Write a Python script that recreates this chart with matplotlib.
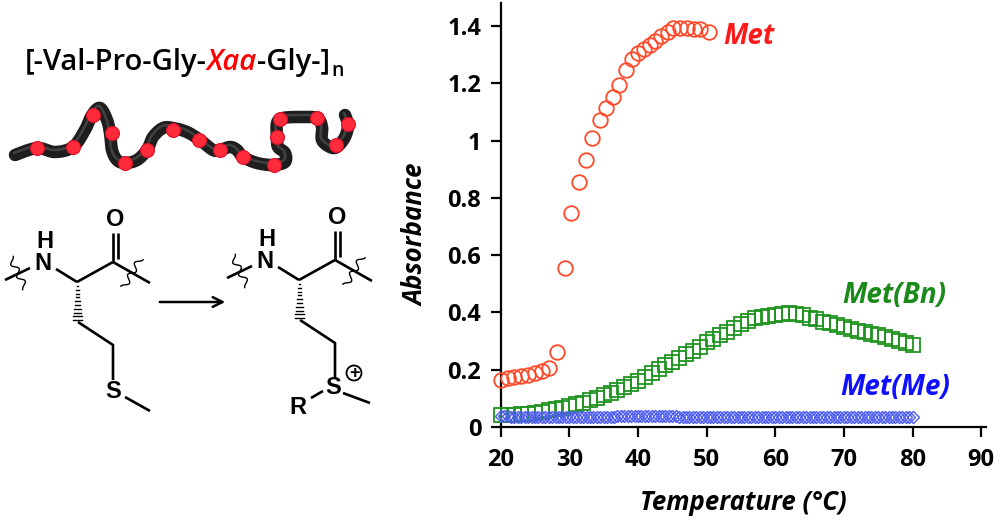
import numpy as np
import matplotlib
matplotlib.use("Agg")
import matplotlib.pyplot as plt

# --- data ---
x_met = [20, 21, 22, 23, 24, 25, 26, 27, 28.2, 29.3, 30.3, 31.4, 32.4, 33.3, 34.4, 35.3,
         36.3, 37.3, 38.3, 39.2, 40.0, 40.9, 41.7, 42.5, 43.4, 44.3, 45.1, 46.1, 47.1,
         48.1, 49.0, 50.3]
y_met = [0.164, 0.170, 0.176, 0.179, 0.181, 0.187, 0.197, 0.205, 0.263, 0.555, 0.748,
         0.855, 0.931, 1.008, 1.071, 1.113, 1.154, 1.195, 1.247, 1.284, 1.305, 1.319,
         1.334, 1.349, 1.365, 1.380, 1.392, 1.395, 1.393, 1.391, 1.391, 1.380]

x_bn = np.arange(20, 81, 1)
y_bn = [0.042, 0.042, 0.043, 0.044, 0.046, 0.048, 0.052, 0.058, 0.062, 0.067,
        0.073, 0.079, 0.085, 0.093, 0.101, 0.110, 0.119, 0.129, 0.139, 0.150,
        0.161, 0.175, 0.189, 0.203, 0.215, 0.227, 0.240, 0.254, 0.266, 0.281,
        0.296, 0.308, 0.320, 0.331, 0.346, 0.360, 0.371, 0.379, 0.385, 0.389,
        0.392, 0.396, 0.397, 0.394, 0.390, 0.382, 0.376, 0.368, 0.362, 0.356,
        0.350, 0.343, 0.337, 0.331, 0.326, 0.321, 0.315, 0.308, 0.301, 0.294,
        0.286]

x_me = np.arange(20, 80.01, 0.5)
y_me = [0.038, 0.037, 0.037, 0.036, 0.036, 0.036, 0.035, 0.035, 0.035, 0.035,
        0.035, 0.035, 0.034, 0.034, 0.034, 0.035, 0.035, 0.035, 0.035, 0.035,
        0.035, 0.036, 0.036, 0.036, 0.036, 0.036, 0.036, 0.036, 0.036, 0.036,
        0.036, 0.036, 0.036, 0.036, 0.037, 0.037, 0.037, 0.037, 0.037, 0.037,
        0.037, 0.037, 0.037, 0.037, 0.037, 0.037, 0.037, 0.037, 0.037, 0.037,
        0.037, 0.037, 0.036, 0.036, 0.036, 0.036, 0.036, 0.036, 0.036, 0.036,
        0.036, 0.036, 0.036, 0.036, 0.036, 0.036, 0.036, 0.036, 0.036, 0.036,
        0.036, 0.035, 0.035, 0.035, 0.035, 0.035, 0.035, 0.035, 0.035, 0.035,
        0.035, 0.035, 0.035, 0.035, 0.035, 0.035, 0.035, 0.035, 0.035, 0.035,
        0.035, 0.035, 0.035, 0.035, 0.035, 0.035, 0.036, 0.036, 0.036, 0.036,
        0.036, 0.036, 0.036, 0.036, 0.036, 0.036, 0.036, 0.036, 0.036, 0.036,
        0.036, 0.036, 0.036, 0.036, 0.036, 0.036, 0.036, 0.036, 0.036, 0.036,
        0.036]

x_ticks = [20, 30, 40, 50, 60, 70, 80, 90]
y_ticks = [0, 0.2, 0.4, 0.6, 0.8, 1, 1.2, 1.4]
y_ticklabels = ["0", "0.2", "0.4", "0.6", "0.8", "1", "1.2", "1.4"]

# polymer sketch (pixel coords of the left panel)
worm = [(15, 155), (37, 148), (55, 152), (73, 147), (85, 130), (92, 115), (100, 108),
        (107, 120), (110, 133), (112, 150), (117, 160), (125, 163), (137, 160),
        (147, 150), (153, 137), (163, 128), (173, 128), (187, 132), (200, 140),
        (213, 150), (220, 150), (230, 147), (237, 150), (243, 157), (257, 163),
        (273, 165), (285, 162), (285, 153), (278, 147), (277, 137), (277, 123),
        (283, 118), (300, 117), (317, 118), (322, 127), (322, 140), (330, 147),
        (337, 147), (345, 137), (348, 125), (345, 115)]
beads = [(37, 148), (73, 147), (93, 115), (112, 133), (125, 163), (147, 150),
         (173, 130), (199, 140), (220, 150), (243, 157), (274, 165), (277, 137),
         (280, 119), (317, 118), (336, 145), (348, 124)]

RED = "#ff4a2a"
GREEN = "#1f941f"
BLUE = "#4d5cf2"

fig = plt.figure(figsize=(10, 5.25), dpi=100)

# ---------------- left panel: scheme ----------------
axL = fig.add_axes([0, 0, 0.4, 1])
axL.set_xlim(0, 400)
axL.set_ylim(525, 0)
axL.axis("off")

tfont = dict(family="Open Sans", fontsize=21, fontweight="semibold")
t1 = axL.text(25, 70, "[-Val-Pro-Gly-", va="baseline", ha="left", **tfont)
t2 = axL.annotate("Xaa", xy=(1, 0), xycoords=t1, va="bottom", ha="left",
                  color="#ff0000", style="italic", **tfont)
t3 = axL.annotate("-Gly-]", xy=(1, 0), xycoords=t2, va="bottom", ha="left", **tfont)
axL.annotate("n", xy=(1, 0), xycoords=t3, xytext=(1, -3), textcoords="offset points",
             va="bottom", ha="left", family="Open Sans", fontsize=14, fontweight="semibold")


def catmull(pts, n=12):
    p = np.array(pts, dtype=float)
    p = np.vstack([p[0], p, p[-1]])
    out = []
    for i in range(1, len(p) - 2):
        p0, p1, p2, p3 = p[i - 1], p[i], p[i + 1], p[i + 2]
        for t in np.linspace(0, 1, n, endpoint=False):
            out.append(0.5 * (2 * p1 + (-p0 + p2) * t + (2 * p0 - 5 * p1 + 4 * p2 - p3) * t ** 2
                              + (-p0 + 3 * p1 - 3 * p2 + p3) * t ** 3))
    out.append(p[-2])
    return np.array(out)


w = catmull(worm)
axL.plot(w[:, 0], w[:, 1], color="#1e1e1e", lw=9, solid_capstyle="round",
         solid_joinstyle="round")
axL.plot(w[:, 0] - 1, w[:, 1] - 2, color="#5a5a5a", lw=1.8, alpha=0.6,
         solid_capstyle="round")
bx, by = zip(*beads)
axL.plot(bx, by, "o", ms=10, color="#ff2a3a", mec="#e0102a", mew=0.8)

afont = dict(family="Liberation Sans", fontsize=17, fontweight="bold",
             ha="center", va="center")
bond = dict(color="black", lw=1.9, solid_capstyle="butt")


def squiggle(ax, cx, cy, ang, length=34, amp=3.0):
    s = np.linspace(-length / 2, length / 2, 60)
    off = amp * np.sin(s / length * 2 * np.pi * 2.5)
    ux, uy = np.cos(ang), np.sin(ang)
    vx, vy = -uy, ux
    ax.plot(cx + s * ux + off * vx, cy + s * uy + off * vy, color="black", lw=1.0)


def residue(ax, dx, dy, charged):
    X = lambda v: v + dx
    Y = lambda v: v + dy
    ax.text(X(45), Y(242), "H", **afont)
    ax.text(X(43), Y(263), "N", **afont)
    ax.plot([X(30), X(5)], [Y(268), Y(280)], **bond)
    squiggle(ax, X(18), Y(273), np.deg2rad(64))
    ax.plot([X(56), X(77)], [Y(269), Y(282)], **bond)
    ax.plot([X(77), X(113)], [Y(282), Y(262)], **bond)
    ax.plot([X(113), X(113)], [Y(262), Y(233)], **bond)
    ax.plot([X(118), X(118)], [Y(259), Y(233)], **bond)
    ax.text(X(115), Y(220), "O", **afont)
    ax.plot([X(113), X(150)], [Y(262), Y(283)], **bond)
    squiggle(ax, X(132), Y(273), np.deg2rad(-60))
    # hashed wedge
    for k in range(10):
        yy = Y(286 + k * 3.8)
        half = 0.6 + k * 0.45
        ax.plot([X(77.5) - half, X(77.5) + half], [yy, yy], color="black", lw=1.0)
    ax.plot([X(78), X(113), X(113)], [Y(322), Y(345), Y(380)], **bond)
    if not charged:
        ax.text(X(113), Y(391), "S", **afont)
        ax.plot([X(125), X(150)], [Y(397), Y(411)], **bond)
    else:
        ax.text(X(111), Y(390), "S", **afont)
        ax.add_patch(plt.Circle((X(132), Y(375)), 7.5, fill=False, color="black", lw=1.3))
        ax.text(X(132), Y(375.5), "+", family="Liberation Sans", fontsize=13,
                fontweight="bold", ha="center", va="center")
        ax.text(X(76), Y(409), "R", **afont)
        ax.plot([X(89), X(101)], [Y(400), Y(393)], **bond)
        ax.plot([X(121), X(148)], [Y(395), Y(405)], **bond)


residue(axL, 0, 0, False)
residue(axL, 222, -2, True)
axL.annotate("", xy=(228, 302), xytext=(157, 302),
             arrowprops=dict(arrowstyle="->,head_length=0.7,head_width=0.35",
                             color="black", lw=1.8))

# ---------------- right panel: chart ----------------
ax = fig.add_axes([0.5007, 0.1867, 0.4853, 0.8070])
ax.plot(x_bn, y_bn, "s", ms=9.5, mfc="none", mec=GREEN, mew=1.3, clip_on=False, zorder=3)
ax.plot(x_me, y_me, "D", ms=6.5, mfc="none", mec=BLUE, mew=1.0, clip_on=False, zorder=4)
ax.plot(x_met, y_met, "o", ms=10.5, mfc="none", mec=RED, mew=1.3, clip_on=False, zorder=5)

ax.set_xlim(20, 90.7)
ax.set_ylim(0, 1.48)
ax.set_xticks(x_ticks)
ax.set_yticks(y_ticks)
ax.set_yticklabels(y_ticklabels)
for s in ["top", "right"]:
    ax.spines[s].set_visible(False)
for s in ["left", "bottom"]:
    ax.spines[s].set_linewidth(1.6)
ax.tick_params(direction="out", length=7, width=1.6, labelsize=17)
ax.tick_params(axis="y", pad=7)
ax.tick_params(axis="x", pad=8)
for lab in ax.get_xticklabels() + ax.get_yticklabels():
    lab.set_family("Open Sans")
    lab.set_fontweight("bold")

lfont = dict(family="Open Sans", fontsize=18.5, fontweight="bold", style="italic")
fig.text(0.416, 1 - 235 / 525, "Absorbance", rotation=90, ha="center", va="center", **lfont)
fig.text(0.743, 1 - 503 / 525, "Temperature (\u00b0C)", ha="center", va="center", **lfont)

nfont = dict(family="Open Sans", fontsize=20, fontweight="bold", style="italic",
             va="baseline", ha="left")
ax.text(52.4, 1.337, "Met", color="#ff1a1a", **nfont)
ax.text(69.7, 0.433, "Met(Bn)", color="#1a8a1a", **nfont)
ax.text(69.4, 0.112, "Met(Me)", color="#1010ff", **nfont)

fig.savefig("out.png", dpi=100)
